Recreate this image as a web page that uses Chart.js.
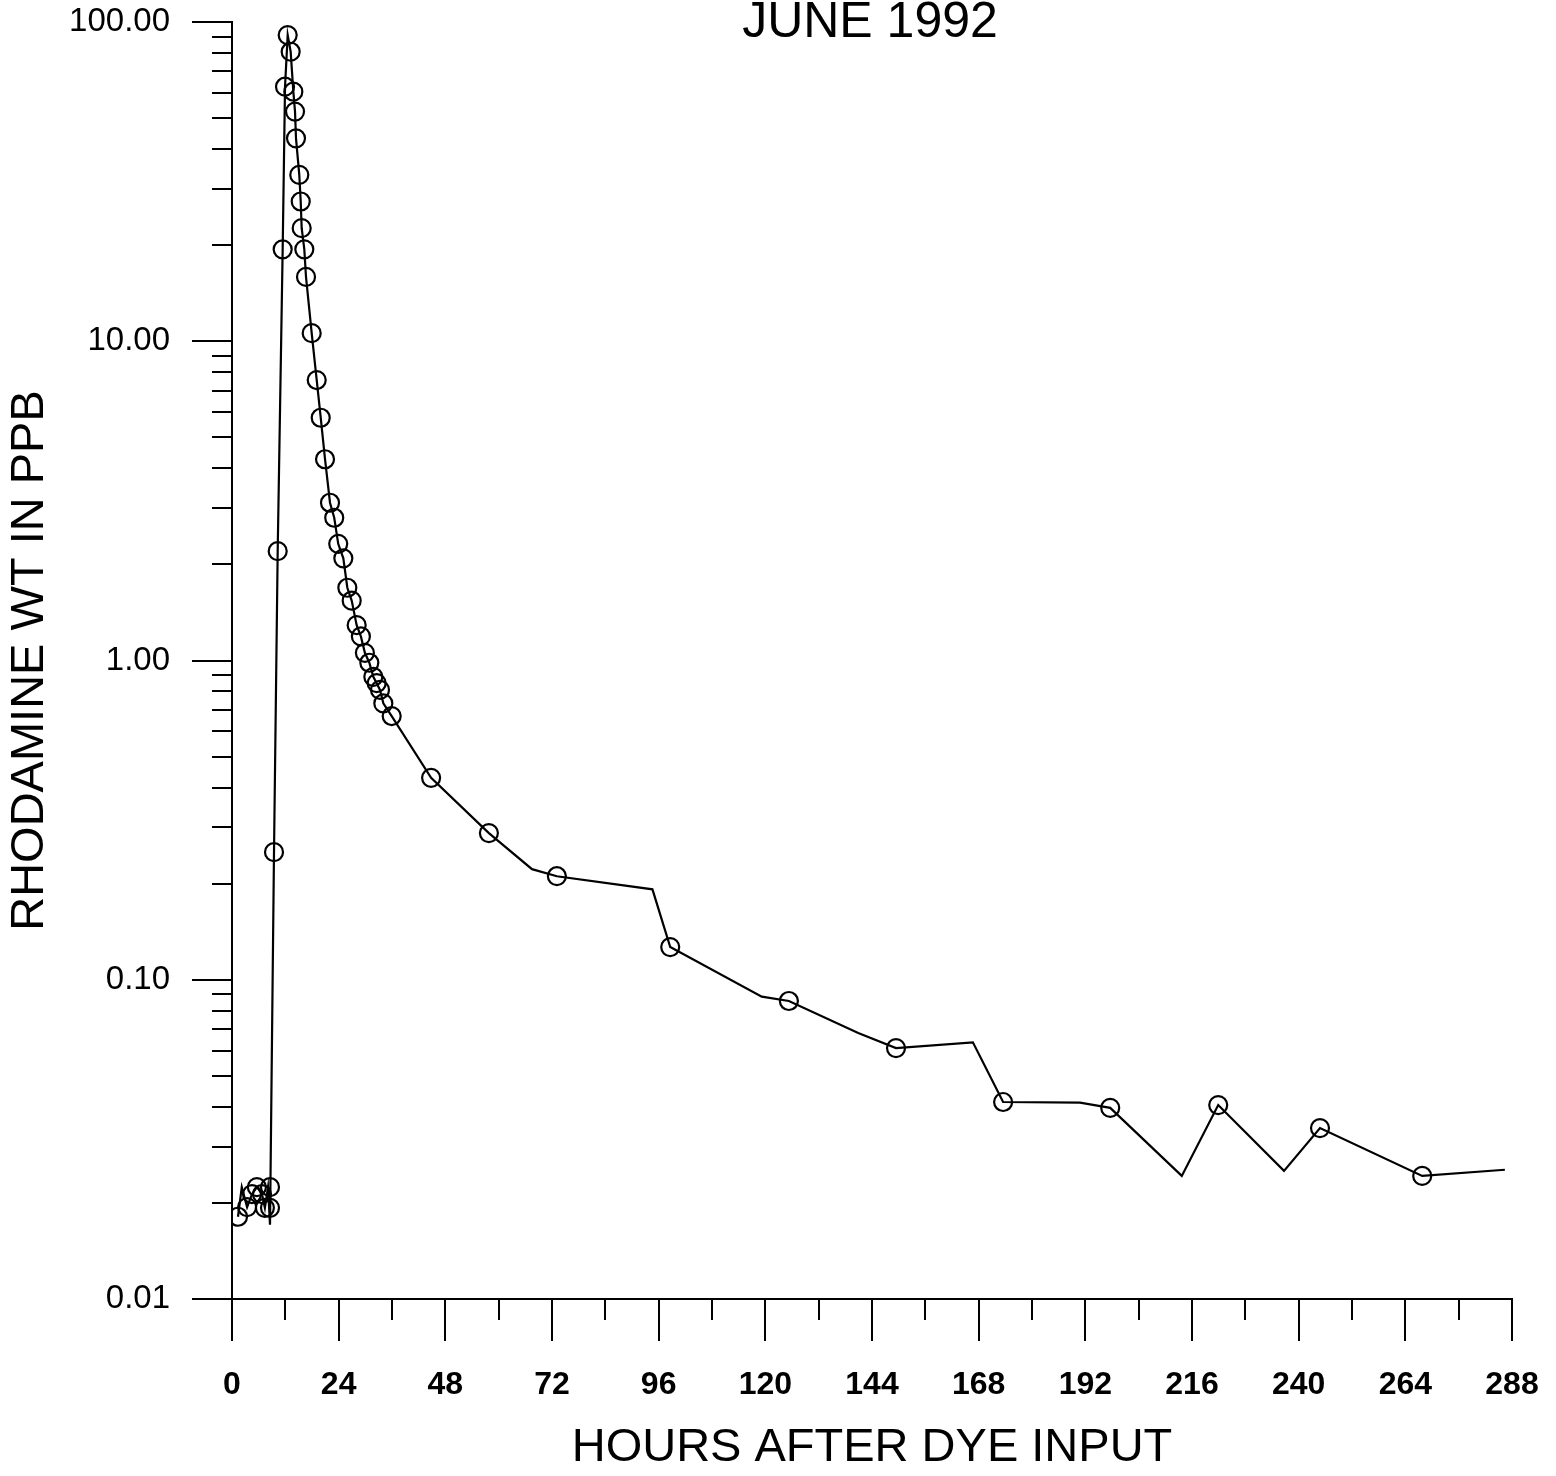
<!DOCTYPE html>
<html><head><meta charset="utf-8">
<script src="https://cdn.jsdelivr.net/npm/chart.js@4/dist/chart.umd.min.js"></script>
<style>html,body{margin:0;padding:0;background:#fff}#wrap{width:1556px;height:1476px}</style>
</head><body><div id="wrap"><canvas id="c" width="1556" height="1476"></canvas></div>
<script>
const chartTitle = 'JUNE 1992';
const xAxisTitle = 'HOURS AFTER DYE INPUT';
const yAxisTitle = 'RHODAMINE WT IN PPB';

const xMajorTicks = [0, 24, 48, 72, 96, 120, 144, 168, 192, 216, 240, 264, 288];
const xMinorTicks = [12, 36, 60, 84, 108, 132, 156, 180, 204, 228, 252, 276];
const yMajorTicks = [0.01, 0.1, 1, 10, 100];
const yTickLabels = ['0.01', '0.10', '1.00', '10.00', '100.00'];
const yMinorTicks = [0.02,0.03,0.04,0.05,0.06,0.07,0.08,0.09,
                     0.2,0.3,0.4,0.5,0.6,0.7,0.8,0.9,
                     2,3,4,5,6,7,8,9,
                     20,30,40,50,60,70,80,90];

// sampled concentrations (circles)
const pointHours = [1.35, 3.4, 4.5, 5.6, 6.75, 7.4, 8.55, 8.55,
  9.45, 10.28, 11.4, 11.93, 12.53, 13.2, 13.8, 14.18, 14.4, 15.14, 15.46, 15.68, 16.27, 16.65,
  17.93, 19.06, 19.96, 20.93, 22.05, 23.0, 23.9, 25.05, 25.95, 26.93, 28.05, 29.0, 29.9, 30.9,
  31.8, 32.55, 33.3, 34.05, 35.93, 44.8, 57.8, 73.1, 98.6, 125.3, 149.4, 173.5, 197.6, 221.9,
  244.8, 267.8];
const pointValues = [0.0181, 0.0194, 0.0213, 0.0224, 0.0213, 0.0193, 0.0193, 0.0224,
  0.251, 2.20, 19.4, 62.7, 91.0, 80.7, 60.5, 52.4, 43.2, 33.2, 27.4, 22.6, 19.4, 15.9,
  10.6, 7.56, 5.76, 4.27, 3.12, 2.80, 2.32, 2.09, 1.69, 1.54, 1.29, 1.19, 1.057, 0.984,
  0.889, 0.849, 0.809, 0.734, 0.670, 0.429, 0.288, 0.211, 0.1266, 0.0858, 0.0611, 0.0414, 0.0397, 0.0405,
  0.0343, 0.0243];

// connecting curve vertices
const lineHours = [1.35, 2.2, 3.4, 4.5, 5.6, 6.75, 7.4, 8.1, 8.55,
  9.45, 10.28, 11.4, 11.93, 12.53, 13.2, 13.8, 14.18, 14.4, 15.14, 15.46, 15.68, 16.27, 16.65,
  17.93, 19.06, 19.96, 20.93, 22.05, 23.0, 23.9, 25.05, 25.95, 26.93, 28.05, 29.0, 29.9, 30.9,
  31.8, 32.55, 33.3, 34.05, 35.93, 44.8, 57.8, 67.5, 73.1, 94.6, 98.6, 119.2, 125.3, 140.9,
  149.4, 166.7, 173.5, 190.8, 197.6, 213.7, 221.9, 236.7, 244.8, 267.8, 286.4];
const lineValues = [0.0181, 0.0224, 0.0194, 0.0213, 0.0224, 0.0213, 0.0193, 0.0224, 0.0171,
  0.251, 2.20, 19.4, 62.7, 91.0, 80.7, 60.5, 52.4, 43.2, 33.2, 27.4, 22.6, 19.4, 15.9,
  10.6, 7.56, 5.76, 4.27, 3.12, 2.80, 2.32, 2.09, 1.69, 1.54, 1.29, 1.19, 1.057, 0.984,
  0.889, 0.849, 0.809, 0.734, 0.670, 0.429, 0.288, 0.222, 0.211, 0.192, 0.1266, 0.0885, 0.0858, 0.0681,
  0.0611, 0.0637, 0.0414, 0.0412, 0.0397, 0.0243, 0.0405, 0.0252, 0.0343, 0.0243, 0.0254];

const FAMILY = '"Liberation Sans", Arial, Helvetica, sans-serif';
Chart.defaults.font.family = FAMILY;
Chart.defaults.color = '#000';

const titlePlugin = {
  id: 'topTitle',
  afterDraw(chart) {
    const ctx = chart.ctx, a = chart.chartArea;
    ctx.save();
    ctx.font = '50px ' + FAMILY;
    ctx.fillStyle = '#000';
    ctx.textAlign = 'center';
    ctx.textBaseline = 'alphabetic';
    ctx.fillText(chartTitle, (a.left + a.right) / 2 - 2, 37);
    ctx.restore();
  }
};

const setTicks = list => s => { s.ticks = list.map(v => ({ value: v })); };
const fixH = h => s => { s.height = h; s.paddingLeft = 0; s.paddingRight = 0; };
const fixW = w => s => { s.width = w; s.paddingTop = 0; s.paddingBottom = 0; };

new Chart(document.getElementById('c'), {
  type: 'scatter',
  data: {
    datasets: [
      {
        data: lineHours.map((h, i) => ({ x: h, y: lineValues[i] })),
        showLine: true, borderColor: '#000', borderWidth: 2.2, pointRadius: 0,
        fill: false, tension: 0, xAxisID: 'x', yAxisID: 'y'
      },
      {
        data: pointHours.map((h, i) => ({ x: h, y: pointValues[i] })),
        showLine: false, pointRadius: 9, pointBorderWidth: 2.2,
        pointBorderColor: '#000', pointBackgroundColor: 'rgba(0,0,0,0)',
        xAxisID: 'x', yAxisID: 'y'
      }
    ]
  },
  options: {
    responsive: false, devicePixelRatio: 1, animation: false,
    layout: { padding: { top: 22, right: 44, bottom: 0, left: 0 } },
    plugins: { legend: { display: false }, tooltip: { enabled: false } },
    scales: {
      x: {
        type: 'linear', position: 'bottom', weight: 1, min: 0, max: 288,
        afterBuildTicks: setTicks(xMajorTicks),
        afterFit: fixH(177),
        ticks: { autoSkip: false, maxRotation: 0, padding: 25, color: '#000',
                 font: { size: 32, weight: 'bold' }, callback: v => String(v) },
        grid: { drawOnChartArea: false, drawTicks: true, tickLength: 42, color: '#000', lineWidth: 2 },
        border: { display: true, color: '#000', width: 2 },
        title: { display: true, text: xAxisTitle, color: '#000', font: { size: 47 },
                 padding: { top: 0, bottom: 0 } }
      },
      x2: {
        type: 'linear', position: 'bottom', weight: 0, min: 0, max: 288,
        afterBuildTicks: setTicks(xMinorTicks),
        afterFit: fixH(0),
        ticks: { display: false, autoSkip: false },
        grid: { drawOnChartArea: false, drawTicks: true, tickLength: 21, color: '#000', lineWidth: 2 },
        border: { display: false }
      },
      y: {
        type: 'logarithmic', position: 'left', weight: 1, min: 0.01, max: 100,
        afterBuildTicks: setTicks(yMajorTicks),
        afterFit: fixW(232),
        ticks: { autoSkip: false, padding: 22, color: '#000', font: { size: 33 },
                 callback: (v, i) => yTickLabels[i] },
        grid: { drawOnChartArea: false, drawTicks: true, tickLength: 40, color: '#000', lineWidth: 2 },
        border: { display: true, color: '#000', width: 2 },
        title: { display: true, text: yAxisTitle, color: '#000', font: { size: 47 },
                 padding: { top: 2, bottom: 0 } }
      },
      y2: {
        type: 'logarithmic', position: 'left', weight: 0, min: 0.01, max: 100,
        afterBuildTicks: setTicks(yMinorTicks),
        afterFit: fixW(0),
        ticks: { display: false, autoSkip: false },
        grid: { drawOnChartArea: false, drawTicks: true, tickLength: 20, color: '#000', lineWidth: 2 },
        border: { display: false }
      }
    }
  },
  plugins: [titlePlugin]
});
</script></body></html>
